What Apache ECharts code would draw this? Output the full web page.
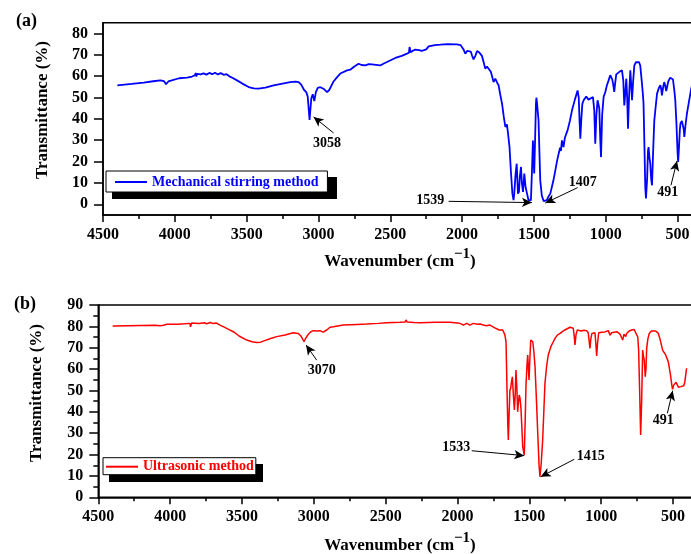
<!DOCTYPE html>
<html><head><meta charset="utf-8">
<script src="https://cdn.jsdelivr.net/npm/echarts@6/dist/echarts.min.js"></script>
<style>html,body{margin:0;padding:0;background:#fff}#c{width:691px;height:554px}</style>
</head><body><div id="c"></div>
<script>
// ---------- data (wavenumber in cm-1, transmittance in %) ----------
const mechWn = [
4400,4300,4217,4150,4101,4075,4061,4045,4032,3970,
3915,3880,3860,3855,3850,3845,3820,3800,3780,3760,
3740,3720,3700,3680,3660,3640,3620,3600,3567,3530,
3486,3450,3417,3370,3312,3250,3196,3160,3138,3120,
3100,3085,3075,3062,3050,3040,3029,3018,3005,2987,
2965,2952,2940,2925,2895,2870,2848,2801,2779,2750,
2721,2700,2674,2650,2627,2600,2570,2545,2523,2465,
2420,2384,2370,2366,2358,2340,2326,2300,2280,2268,
2250,2233,2190,2152,2100,2036,2010,2001,1990,1978,
1965,1955,1940,1930,1920,1908,1896,1880,1862,1850,
1839,1827,1816,1800,1781,1769,1755,1746,1735,1722,
1710,1699,1688,1680,1670,1660,1650,1642,1637,1628,
1620,1611,1604,1598,1590,1584,1576,1567,1558,1548,
1538,1530,1521,1514,1507,1502,1498,1492,1486,1483,
1478,1468,1462,1456,1445,1432,1421,1410,1400,1386,
1365,1351,1340,1328,1318,1312,1305,1294,1285,1275,
1266,1250,1235,1215,1196,1188,1183,1177,1170,1163,
1154,1136,1120,1108,1089,1080,1073,1065,1057,1045,
1038,1033,1025,1015,1003,992,980,969,955,948,
941,934,927,905,887,878,871,864,857,851,
845,838,829,822,817,810,801,790,778,768,
760,750,742,737,730,725,720,712,706,702,
696,690,684,678,670,662,652,643,630,620,
614,609,600,593,586,579,565,551,540,532,
522,516,508,500,496,490,484,480,470,462,
457,453,445,435,421,405,400];
const mechT = [
55.7,56.4,57.0,57.6,58.0,57.6,56.2,57.5,58.4,59.0,
59.3,59.8,60.4,61.5,59.8,61.0,60.8,61.3,60.7,61.5,
60.9,61.6,60.8,61.4,60.6,60.9,59.9,59.2,58.0,56.5,
54.9,54.3,54.1,54.6,55.7,56.5,57.2,57.4,57.2,56.0,
53.5,52.5,50.5,39.5,49.5,51.5,48.3,52.5,54.5,54.8,
54.1,53.8,52.5,53.5,57.5,59.5,61.2,62.7,63.0,64.5,
65.8,65.2,65.0,65.6,65.5,65.3,65.0,65.9,66.6,68.5,
69.5,70.5,71.0,73.6,71.2,72.0,72.4,72.2,71.8,71.7,
72.5,73.9,74.5,74.7,75.0,74.9,74.5,73.9,72.5,70.5,
71.8,72.4,71.5,69.5,67.8,69.5,71.7,71.0,69.5,66.5,
63.5,64.5,65.0,62.0,57.2,58.8,56.8,55.7,51.5,47.1,
41.0,36.2,37.4,33.0,26.8,15.0,5.0,2.0,5.0,14.0,
19.0,5.0,6.0,13.0,17.5,10.0,5.8,14.4,8.0,5.0,
2.0,1.1,1.9,15.0,29.9,20.0,14.4,30.0,47.0,49.9,
47.0,39.3,25.0,11.2,4.0,1.5,0.9,2.0,3.5,5.0,
11.0,15.9,20.0,23.7,26.5,25.0,29.9,26.8,31.0,33.0,
34.6,39.0,44.0,49.0,53.3,50.0,40.0,30.7,40.0,47.0,
48.7,50.5,49.0,49.5,50.2,44.0,28.4,42.0,48.7,45.0,
30.0,22.1,42.0,50.2,52.6,55.7,58.0,60.4,58.5,56.0,
52.6,57.0,60.8,62.0,62.7,58.0,46.3,52.0,58.8,50.0,
35.4,50.0,62.7,55.0,48.7,57.0,65.0,66.5,67.4,66.5,
65.0,58.0,52.0,47.1,25.0,8.0,2.7,12.0,25.0,26.8,
22.0,19.0,12.0,8.9,25.0,39.3,46.0,51.8,54.5,55.7,
54.0,51.0,55.0,57.2,55.5,53.0,57.5,59.3,59.0,58.4,
53.0,48.7,38.0,24.0,19.8,27.0,35.0,37.8,39.0,39.3,
35.0,31.5,37.0,42.4,47.9,54.1,55.5];

const ultraWn = [
4400,4300,4200,4100,4071,4059,4045,4024,3950,3900,
3862,3858,3850,3800,3760,3746,3720,3700,3680,3653,
3620,3590,3560,3520,3467,3430,3398,3370,3352,3300,
3258,3200,3143,3108,3090,3068,3060,3049,3038,3020,
3004,2980,2957,2934,2910,2887,2864,2795,2700,2632,
2550,2493,2400,2365,2358,2350,2342,2300,2261,2150,
2052,2000,1982,1970,1959,1948,1936,1925,1913,1902,
1890,1860,1843,1820,1800,1774,1762,1740,1709,1685,
1670,1662,1655,1650,1646,1640,1635,1630,1624,1618,
1611,1604,1598,1593,1587,1581,1576,1570,1564,1558,
1552,1546,1540,1535,1529,1523,1516,1511,1506,1502,
1496,1490,1484,1476,1468,1460,1450,1441,1432,1426,
1418,1407,1399,1391,1380,1368,1350,1333,1320,1305,
1286,1270,1252,1217,1194,1188,1182,1175,1166,1140,
1120,1101,1090,1083,1078,1072,1064,1043,1037,1031,
1025,1017,995,973,950,938,928,915,890,869,
856,850,841,829,822,805,787,770,757,745,
739,732,725,718,711,705,700,693,688,683,
675,665,650,637,620,602,590,572,550,533,
517,508,503,495,487,478,470,462,456,445,
432,425,417,410,405];
const ultraT = [
80.2,80.3,80.4,80.5,80.3,79.8,80.5,81.0,81.0,81.2,
81.4,79.8,81.6,81.3,81.7,81.2,81.8,81.3,81.6,80.6,
79.5,78.5,77.5,75.5,73.6,72.8,72.5,72.6,73.1,74.3,
75.2,76.0,77.0,76.7,75.5,72.8,74.0,75.2,76.3,77.5,
78.0,77.8,78.0,77.3,78.3,79.6,79.8,80.6,80.9,81.1,
81.4,81.7,81.9,82.0,83.0,82.0,81.7,81.8,81.7,81.9,
81.9,81.6,81.4,80.9,80.6,81.2,81.4,80.9,80.6,81.2,
81.4,81.0,81.1,80.6,80.3,80.6,79.8,79.3,78.3,78.3,
76.0,72.8,50.0,35.0,26.8,40.0,50.0,51.0,54.0,56.4,
48.0,40.9,48.0,59.6,52.0,40.1,44.0,47.9,46.0,41.6,
33.0,23.7,21.5,19.8,35.0,52.6,62.0,66.6,60.0,54.9,
65.0,73.6,74.5,72.8,68.0,61.1,45.0,29.9,15.0,9.6,
15.0,26.8,40.0,53.3,61.0,66.6,70.5,72.8,74.5,75.9,
76.7,77.5,78.3,79.6,79.1,76.0,71.3,76.0,78.3,77.8,
78.2,78.0,77.0,73.0,69.7,74.0,76.7,77.0,72.0,66.1,
72.0,77.0,77.2,77.4,78.0,75.9,77.0,77.5,77.5,76.4,
75.5,73.6,76.4,75.2,76.7,77.8,78.3,78.5,78.0,75.0,
68.9,50.0,29.2,45.0,68.9,66.0,64.3,56.4,60.0,69.7,
74.0,76.7,77.8,78.0,77.8,76.7,74.0,68.9,66.5,63.5,
57.2,52.5,50.5,52.5,53.3,53.8,52.6,51.5,51.0,51.8,
51.5,52.2,54.1,58.0,60.4];

// peak annotations: label, text position, arrow tail, arrow tip (data units)
const mechNoteLabels = ['3058','1539','1407','491'];
const mechNoteText = [[2941,28.7],[2222,1.9],[1161,10.4],[568,5.8]];
const mechNoteFrom = [[2895,33.4],[2094,1.4],[1196,7.8],[546,8.9]];
const mechNoteTo   = [[3034,40.9],[1514,0.8],[1421,0.6],[504,20.3]];

const ultraNoteLabels = ['3070','1533','1415','491'];
const ultraNoteText = [[2945,59.6],[2008,23.4],[1072,19.2],[567,35.9]];
const ultraNoteFrom = [[2980,64.2],[1901,21.8],[1187,17.8],[539,39.3]];
const ultraNoteTo   = [[3054,71.3],[1535,19.5],[1421,9.6],[502,49.9]];

const yMajorA = [0,10,20,30,40,50,60,70,80];
const yMinorA = [5,15,25,35,45,55,65,75];

// ---------- chart ----------
const FONT = '"Liberation Serif","Times New Roman",serif';
const zip = (a, b) => a.map((v, i) => [v, b[i]]);
const notes = (labels, text, from, to) => ({
  markLine: {
    silent: true, symbol: ['none', 'arrow'], symbolSize: [7, 10], animation: false,
    lineStyle: { color: '#000', width: 1, type: 'solid' }, label: { show: false },
    emphasis: { disabled: true },
    data: labels.map((l, i) => [{ coord: from[i] }, { coord: to[i] }])
  },
  markPoint: {
    silent: true, symbol: 'rect', symbolSize: 1, animation: false,
    itemStyle: { color: 'rgba(0,0,0,0)' },
    label: { show: true, position: 'inside', color: '#000', fontSize: 14, fontWeight: 'bold', fontFamily: FONT, formatter: p => p.name },
    data: labels.map((l, i) => ({ name: l, coord: text[i] }))
  }
});

const axisLineStyle = { color: '#000', width: 1.5 };
const labelStyle = { color: '#000', fontSize: 16, fontWeight: 'bold', fontFamily: FONT };

function xAxisFor(gi) {
  return {
    gridIndex: gi, type: 'value', min: 0, max: 4500, interval: 500, inverse: true,
    axisLine: { show: true, onZero: false, lineStyle: axisLineStyle },
    axisTick: { show: true, inside: false, length: 7, lineStyle: axisLineStyle },
    minorTick: { show: true, splitNumber: 2, length: 4, lineStyle: { color: '#000', width: 1.5 } },
    axisLabel: Object.assign({ margin: 12, formatter: v => v === 0 ? '' : String(v) }, labelStyle),
    splitLine: { show: false }, minorSplitLine: { show: false }
  };
}

const xTitle = (y) => ({
  type: 'text', x: 400, y: y, z: 10,
  style: { text: 'Wavenumber (cm{s|\u22121})', align: 'center', verticalAlign: 'middle', fontSize: 17, fontWeight: 'bold', fontFamily: FONT, fill: '#000',
    rich: { s: { fontSize: 15, fontWeight: 'bold', fontFamily: FONT, fill: '#000', verticalAlign: 'top', padding: [0, 0, 16, 0] } } }
});

const chart = echarts.init(document.getElementById('c'), null, { renderer: 'canvas' });
chart.setOption({
  animation: false,
  backgroundColor: '#fff',
  grid: [
    { left: 103, top: 22.7, width: 646.4, height: 192.3, show: true, borderColor: '#000', borderWidth: 1.5, backgroundColor: 'transparent', containLabel: false, outerBoundsMode: 'none' },
    { left: 98.3, top: 305, width: 646.5, height: 192.3, show: true, borderColor: '#000', borderWidth: 1.5, backgroundColor: 'transparent', containLabel: false, outerBoundsMode: 'none' }
  ],
  xAxis: [xAxisFor(0), xAxisFor(1)],
  yAxis: [
    { gridIndex: 0, type: 'value', min: -5, max: 85, position: 'left',
      axisLine: { show: true, onZero: false, lineStyle: axisLineStyle },
      axisTick: { show: true, inside: false, length: 9, customValues: yMajorA, lineStyle: axisLineStyle },
      axisLabel: Object.assign({ margin: 15, customValues: yMajorA }, labelStyle),
      splitLine: { show: false } },
    { gridIndex: 0, type: 'value', min: -5, max: 85, position: 'left',
      axisLine: { show: false },
      axisTick: { show: true, inside: false, length: 5, customValues: yMinorA, lineStyle: axisLineStyle },
      axisLabel: { show: false }, splitLine: { show: false } },
    { gridIndex: 1, type: 'value', min: 0, max: 90, interval: 10, position: 'left',
      axisLine: { show: true, onZero: false, lineStyle: axisLineStyle },
      axisTick: { show: true, inside: false, length: 9, lineStyle: axisLineStyle },
      minorTick: { show: true, splitNumber: 2, length: 5, lineStyle: { color: '#000', width: 1.5 } },
      axisLabel: Object.assign({ margin: 15 }, labelStyle),
      splitLine: { show: false }, minorSplitLine: { show: false } }
  ],
  legend: [
    { data: ['Mechanical stirring method'], left: 106, top: 171, orient: 'horizontal', z: 5,
      padding: [4, 9, 3, 9], itemWidth: 32, itemHeight: 2, itemGap: 0, icon: 'rect',
      backgroundColor: '#fff', borderColor: '#000', borderWidth: 1, borderRadius: 0,
      selectedMode: false,
      textStyle: { color: '#0000ff', fontSize: 14, fontWeight: 'bold', fontFamily: FONT } },
    { data: ['Ultrasonic method'], left: 103, top: 457.7, orient: 'horizontal', z: 5,
      padding: [2, 2, 1, 3], itemWidth: 32, itemHeight: 2, itemGap: 0, icon: 'rect',
      backgroundColor: '#fff', borderColor: '#000', borderWidth: 1, borderRadius: 0,
      selectedMode: false,
      textStyle: { color: '#ff0000', fontSize: 14, fontWeight: 'bold', fontFamily: FONT } }
  ],
  series: [
    Object.assign({
      name: 'Mechanical stirring method', type: 'line', xAxisIndex: 0, yAxisIndex: 0,
      data: zip(mechWn, mechT), symbol: 'none', smooth: false,
      color: '#0000ff', lineStyle: { color: '#0000ff', width: 1.8 }
    }, notes(mechNoteLabels, mechNoteText, mechNoteFrom, mechNoteTo)),
    Object.assign({
      name: 'Ultrasonic method', type: 'line', xAxisIndex: 1, yAxisIndex: 2,
      data: zip(ultraWn, ultraT), symbol: 'none', smooth: false,
      color: '#ff0000', lineStyle: { color: '#ff0000', width: 1.5 }
    }, notes(ultraNoteLabels, ultraNoteText, ultraNoteFrom, ultraNoteTo))
  ],
  graphic: [
    // legend drop shadows
    { type: 'rect', shape: { x: 112, y: 177, width: 225, height: 22 }, style: { fill: '#000' }, z: 1 },
    { type: 'rect', shape: { x: 109, y: 464, width: 154, height: 18 }, style: { fill: '#000' }, z: 1 },
    { type: 'text', x: 26.5, y: 21.5, style: { text: '(a)', align: 'center', verticalAlign: 'middle', fontSize: 18, fontWeight: 'bold', fontFamily: FONT, fill: '#000' } },
    { type: 'text', x: 25, y: 304, style: { text: '(b)', align: 'center', verticalAlign: 'middle', fontSize: 18, fontWeight: 'bold', fontFamily: FONT, fill: '#000' } },
    { type: 'text', x: 43, y: 110, rotation: Math.PI / 2, style: { text: 'Transmittance (%)', align: 'center', verticalAlign: 'middle', fontSize: 17, fontWeight: 'bold', fontFamily: FONT, fill: '#000' } },
    { type: 'text', x: 37, y: 393, rotation: Math.PI / 2, style: { text: 'Transmittance (%)', align: 'center', verticalAlign: 'middle', fontSize: 17, fontWeight: 'bold', fontFamily: FONT, fill: '#000' } },
    xTitle(262),
    xTitle(546)
  ]
});
</script>
</body></html>
